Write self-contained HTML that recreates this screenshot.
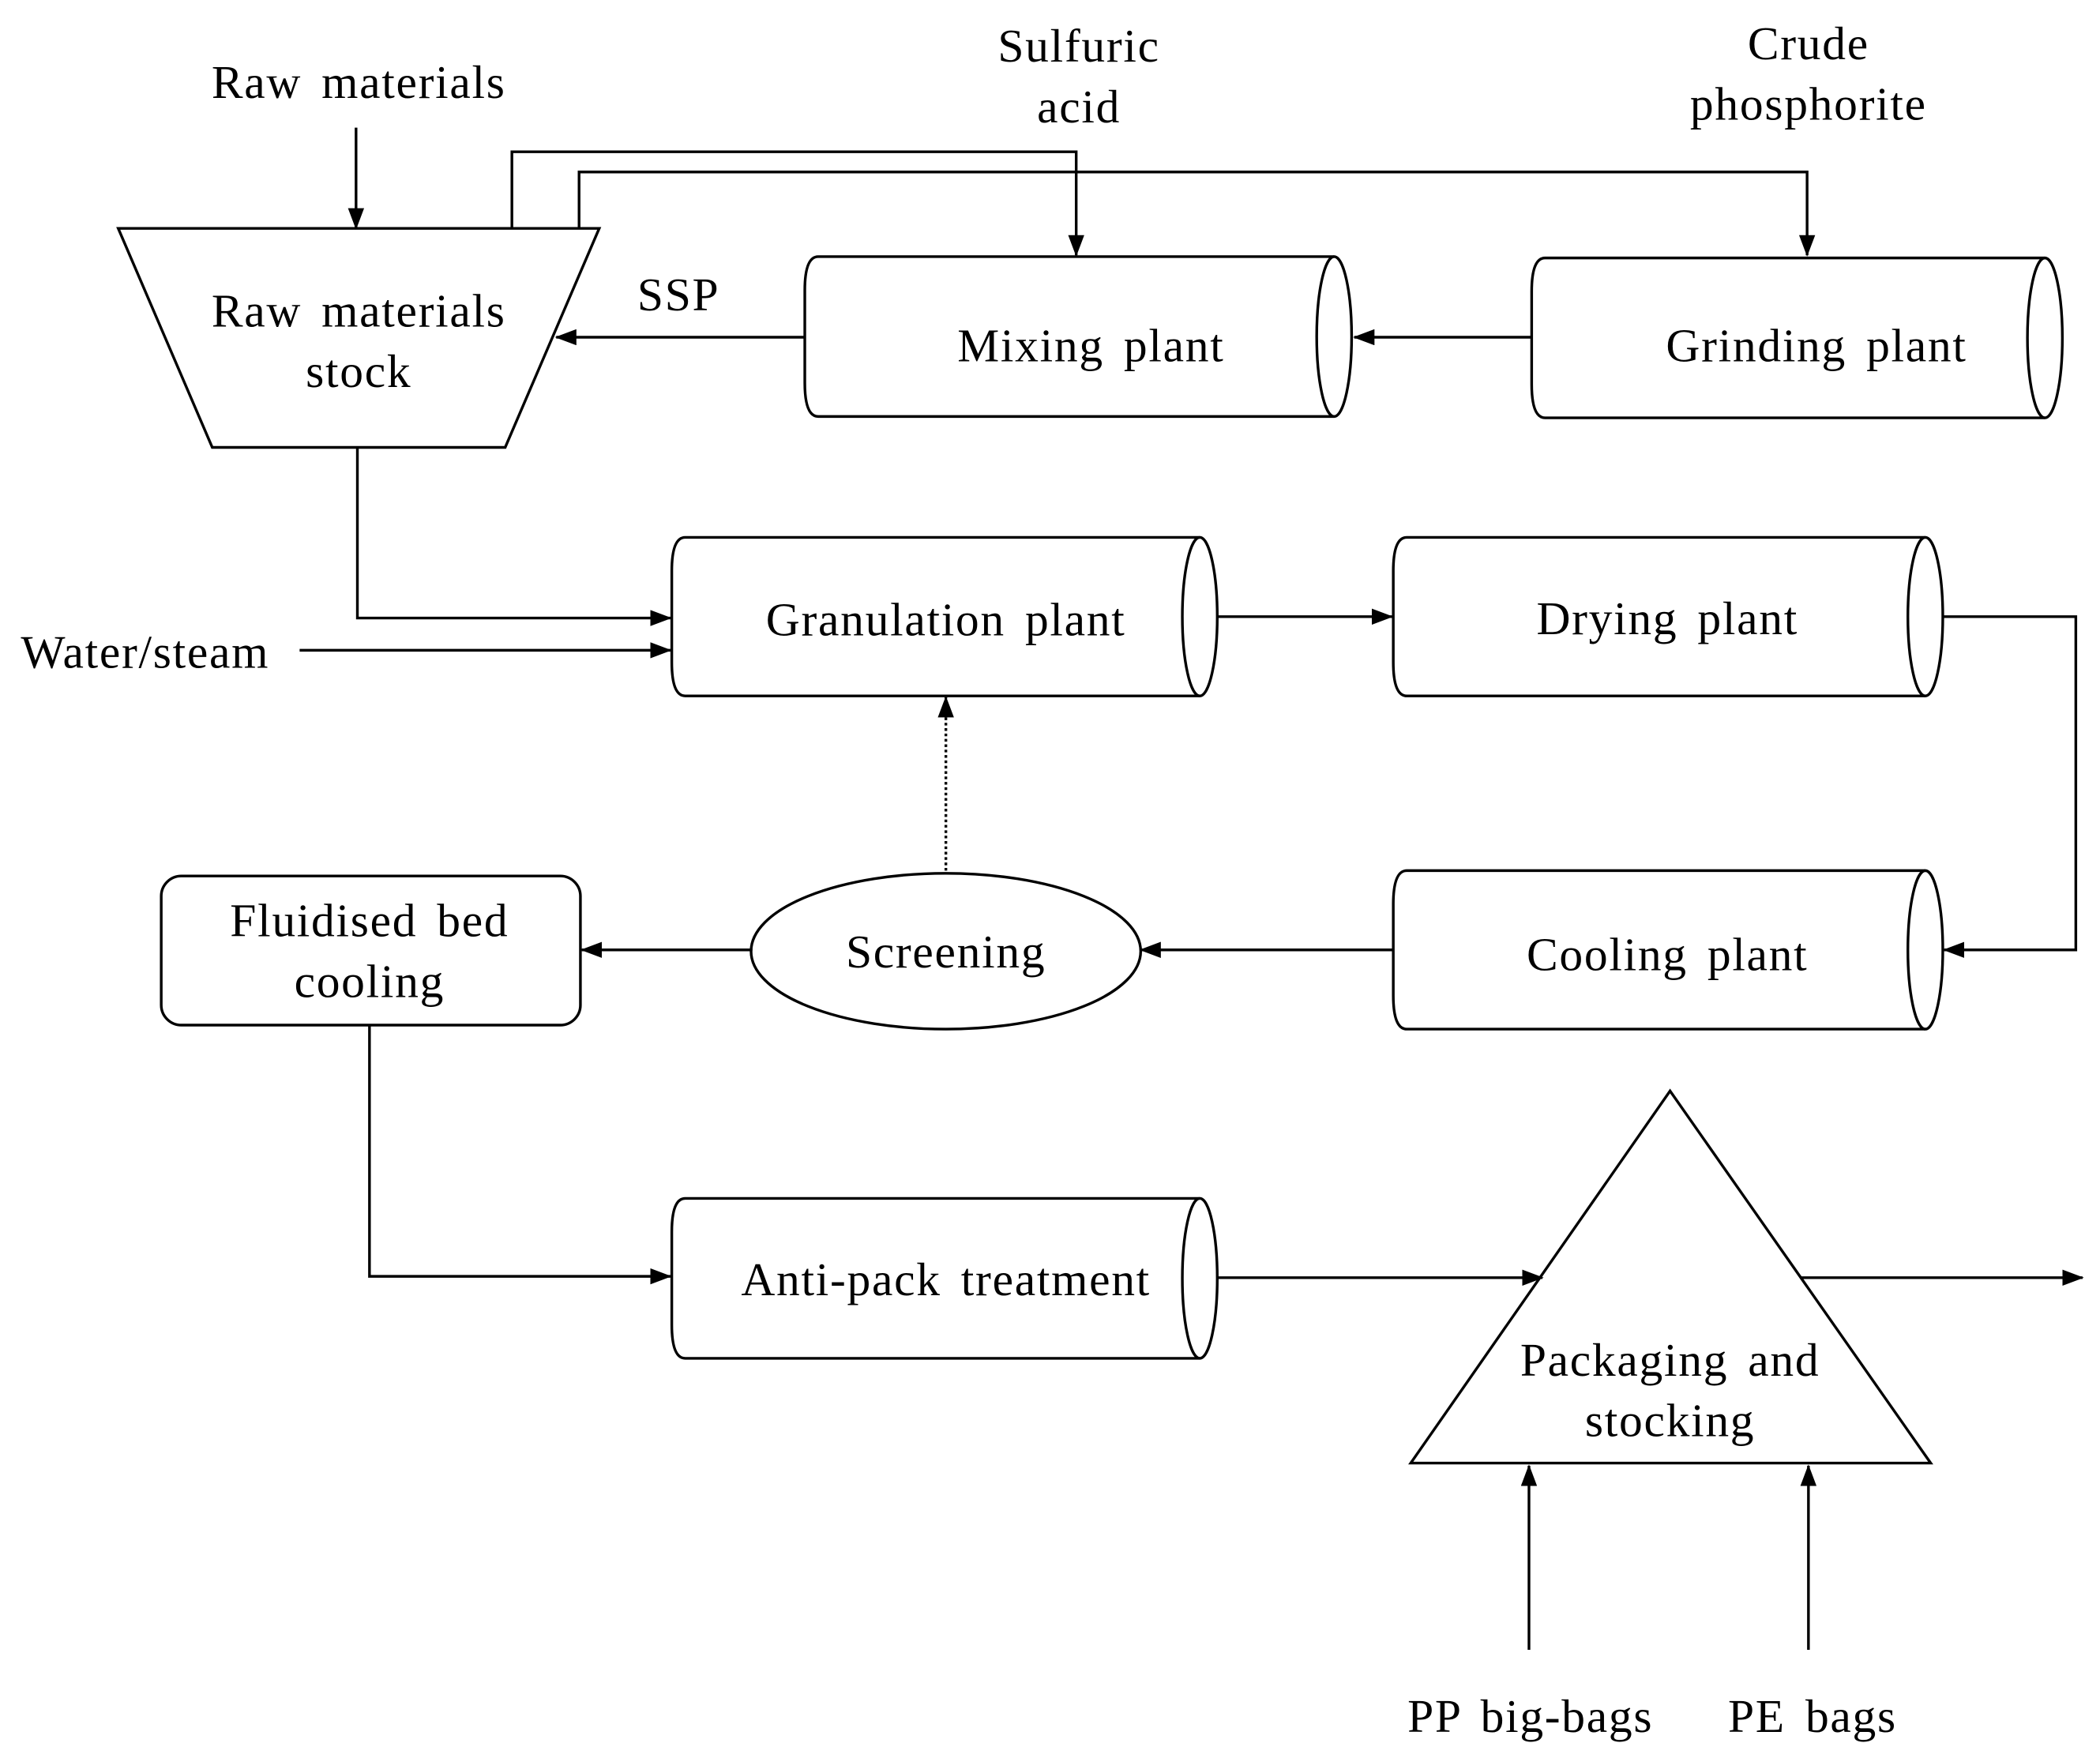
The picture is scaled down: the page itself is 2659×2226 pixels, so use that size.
<!DOCTYPE html>
<html><head><meta charset="utf-8"><style>html,body{margin:0;padding:0;background:#fff}svg{display:block}</style></head>
<body>
<svg width="2659" height="2226" viewBox="0 0 1563 1308.5" preserveAspectRatio="none" xmlns="http://www.w3.org/2000/svg">
<defs>
<marker id="b" markerWidth="16" markerHeight="12" refX="15" refY="6" orient="auto" markerUnits="userSpaceOnUse"><path d="M0,0 L16,6 L0,12 z" fill="#000"/></marker>
</defs>
<g fill="none" stroke="#000" stroke-width="2">
<path d="M993,191 H609 Q599,191 599,216 V285 Q599,310 609,310 H993"/><ellipse cx="993" cy="250.5" rx="13" ry="59.5"/>
<path d="M1522,192 H1150 Q1140,192 1140,217 V286 Q1140,311 1150,311 H1522"/><ellipse cx="1522" cy="251.5" rx="13" ry="59.5"/>
<path d="M893,400 H510 Q500,400 500,425 V493 Q500,518 510,518 H893"/><ellipse cx="893" cy="459" rx="13" ry="59"/>
<path d="M1433,400 H1047 Q1037,400 1037,425 V493 Q1037,518 1047,518 H1433"/><ellipse cx="1433" cy="459" rx="13" ry="59"/>
<path d="M1433,648 H1047 Q1037,648 1037,673 V741 Q1037,766 1047,766 H1433"/><ellipse cx="1433" cy="707" rx="13" ry="59"/>
<path d="M893,892 H510 Q500,892 500,917 V986 Q500,1011 510,1011 H893"/><ellipse cx="893" cy="951.5" rx="13" ry="59.5"/>
<path d="M88,170 H446 L376,333 H158 Z"/>
<ellipse cx="704" cy="708" rx="145" ry="58"/>
<rect x="120" y="652" width="312" height="111" rx="15"/>
<path d="M1243,812 L1437,1089 H1050 Z"/>
<path d="M265,95 V170" marker-end="url(#b)"/>
<path d="M381,170 V113 H801 V190" marker-end="url(#b)"/>
<path d="M431,170 V128 H1345 V190" marker-end="url(#b)"/>
<path d="M599,251 H414" marker-end="url(#b)"/>
<path d="M1140,251 H1008" marker-end="url(#b)"/>
<path d="M266,333 V460 H499" marker-end="url(#b)"/>
<path d="M223,484 H499" marker-end="url(#b)"/>
<path d="M906,459 H1036" marker-end="url(#b)"/>
<path d="M1446,459 H1545 V707 H1447" marker-end="url(#b)"/>
<path d="M1037,707 H849" marker-end="url(#b)"/>
<path d="M704,648 V519" stroke-dasharray="2,2" marker-end="url(#b)"/>
<path d="M560,707 H433" marker-end="url(#b)"/>
<path d="M275,763 V950 H499" marker-end="url(#b)"/>
<path d="M906,951 H1148" marker-end="url(#b)"/>
<path d="M1340,951 H1550" marker-end="url(#b)"/>
<path d="M1138,1228 V1091" marker-end="url(#b)"/>
<path d="M1346,1228 V1091" marker-end="url(#b)"/>
</g>
<g font-family="Liberation Serif, serif" font-size="35" letter-spacing="1" word-spacing="5" text-anchor="middle" fill="#000">
<text x="267" y="73">Raw materials</text>
<text x="803" y="46">Sulfuric</text><text x="803" y="91">acid</text>
<text x="1346" y="44">Crude</text><text x="1346" y="89">phosphorite</text>
<text x="267" y="243">Raw materials</text><text x="267" y="288">stock</text>
<text x="505" y="231">SSP</text>
<text x="812" y="269">Mixing plant</text>
<text x="1352" y="269">Grinding plant</text>
<text x="704" y="473">Granulation plant</text>
<text x="1241" y="472">Drying plant</text>
<text x="108" y="497">Water/steam</text>
<text x="275" y="697">Fluidised bed</text><text x="275" y="742">cooling</text>
<text x="704" y="720">Screening</text>
<text x="1241" y="722">Cooling plant</text>
<text x="704" y="964">Anti-pack treatment</text>
<text x="1243" y="1024">Packaging and</text><text x="1243" y="1069">stocking</text>
<text x="1139" y="1289">PP big-bags</text>
<text x="1349" y="1289">PE bags</text>
</g>
</svg>
</body></html>
